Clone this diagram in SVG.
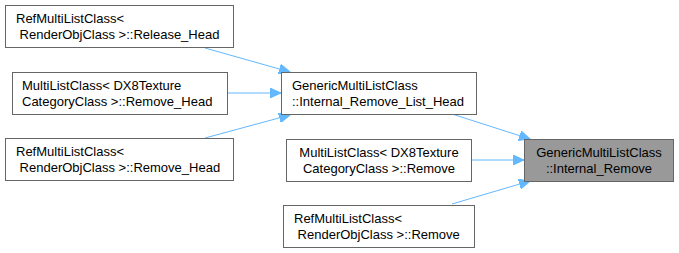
<svg xmlns="http://www.w3.org/2000/svg" width="679" height="253" viewBox="0 0 679 253">
  <style>
    .box { fill: #ffffff; stroke: #666666; stroke-width: 1; }
    .hl { fill: #999999; stroke: #666666; stroke-width: 1; }
    .t { font-family: "Liberation Sans", Arial, sans-serif; font-size: 13px; fill: #000000; }
    .c { text-anchor: middle; }
    .edge { fill: none; stroke: #63b8ff; stroke-width: 1; }
  </style>
  <defs>
    <marker id="arrow" markerWidth="12" markerHeight="10" refX="11" refY="5" orient="auto" markerUnits="userSpaceOnUse">
      <path d="M0,0 L11,5 L0,10 Z" fill="#63b8ff" stroke="#63b8ff"/>
    </marker>
  </defs>
  <rect width="679" height="253" fill="#ffffff"/>

  <g id="edges">
    <path class="edge" d="M205,48 L290,72" marker-end="url(#arrow)"/>
    <path class="edge" d="M227,93 L281,93" marker-end="url(#arrow)"/>
    <path class="edge" d="M205,138 L290,115" marker-end="url(#arrow)"/>
    <path class="edge" d="M452,114 L530,139" marker-end="url(#arrow)"/>
    <path class="edge" d="M471,160 L524,160" marker-end="url(#arrow)"/>
    <path class="edge" d="M452,204 L530,181" marker-end="url(#arrow)"/>
  </g>

  <g id="node_release_head">
    <rect class="box" x="5.5" y="5.5" width="228" height="42"/>
    <text class="t" x="16" y="23">RefMultiListClass&lt;</text>
    <text class="t" x="16" y="39" xml:space="preserve"> RenderObjClass &gt;::Release_Head</text>
  </g>

  <g id="node_multilist_remove_head">
    <rect class="box" x="12.5" y="72.5" width="215" height="42"/>
    <text class="t" x="22" y="90">MultiListClass&lt; DX8Texture</text>
    <text class="t" x="22" y="106">CategoryClass &gt;::Remove_Head</text>
  </g>

  <g id="node_ref_remove_head">
    <rect class="box" x="5.5" y="138.5" width="228" height="42"/>
    <text class="t" x="16" y="156">RefMultiListClass&lt;</text>
    <text class="t" x="16" y="172" xml:space="preserve"> RenderObjClass &gt;::Remove_Head</text>
  </g>

  <g id="node_internal_remove_list_head">
    <rect class="box" x="281.5" y="72.5" width="195" height="42"/>
    <text class="t" x="292" y="90">GenericMultiListClass</text>
    <text class="t" x="292" y="106">::Internal_Remove_List_Head</text>
  </g>

  <g id="node_multilist_remove">
    <rect class="box" x="286.5" y="139.5" width="185" height="42"/>
    <text class="t c" x="379" y="157">MultiListClass&lt; DX8Texture</text>
    <text class="t c" x="379" y="173">CategoryClass &gt;::Remove</text>
  </g>

  <g id="node_ref_remove">
    <rect class="box" x="283.5" y="205.5" width="191" height="42"/>
    <text class="t" x="294" y="223">RefMultiListClass&lt;</text>
    <text class="t" x="294" y="239" xml:space="preserve"> RenderObjClass &gt;::Remove</text>
  </g>

  <g id="node_internal_remove">
    <rect class="hl" x="524.5" y="139.5" width="149" height="42"/>
    <text class="t c" x="599" y="157">GenericMultiListClass</text>
    <text class="t c" x="599" y="173">::Internal_Remove</text>
  </g>
</svg>
